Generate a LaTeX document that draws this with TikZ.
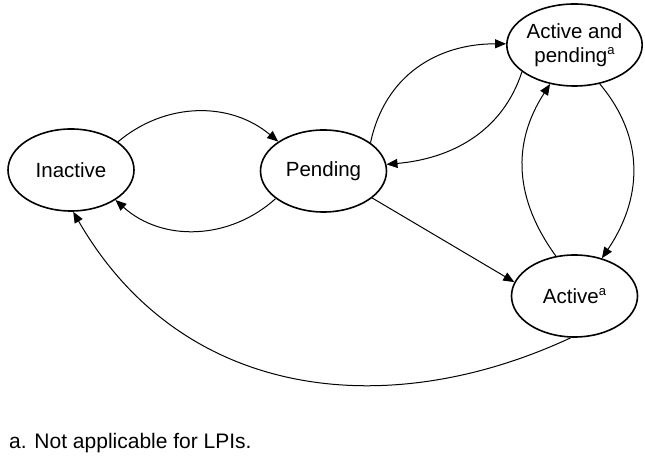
\documentclass[tikz,border=0pt]{standalone}
\usepackage{fontspec}
\setmainfont{Liberation Sans}
\usetikzlibrary{arrows.meta,shapes.geometric}
\newcommand{\supa}{\raisebox{8pt}{\fontsize{13}{13}\selectfont a}}
\begin{document}
\begin{tikzpicture}[x=1pt,y=1pt,
  state/.style={draw,ellipse,line width=1.6pt,minimum width=126pt,minimum height=82pt,inner sep=0pt,
    font=\fontsize{20.5}{24}\selectfont,align=center},
  conn/.style={line width=1pt,-{Triangle[length=11pt,width=9pt]}}]
\useasboundingbox (0,0) rectangle (645,455);
\node[state] (ina) at (71,285) {Inactive};
\node[state] (pen) at (323.5,284) {Pending};
\node[state] (ap) at (574.5,410) {Active and\\pending\supa};
\node[state] (act) at (574.5,159) {Active\supa};
\node[anchor=base west,inner sep=0pt,font=\fontsize{21}{24}\selectfont] (note) at (9,6) {a. Not applicable for LPIs.};
\draw[conn] (ina.31) to[out=40,in=140] (pen.147);
\draw[conn] (pen.210) to[out=222,in=-42] (ina.326);
\draw[conn] (pen.31) to[out=78,in=180,looseness=1.05] (ap.179);
\draw[conn] (ap.207) to[out=252,in=5] (pen.6);
\draw[conn] (ap.-57) to[out=-50,in=56,looseness=1.05] (act.54);
\draw[conn] (act.115) to[out=126,in=237,looseness=1.05] (ap.238);
\draw[conn] (pen.-29) -- (act.167);
\draw[conn] (act.265) to[out=205,in=-60,out distance=200pt,in distance=220pt] (ina.273);
\end{tikzpicture}
\end{document}
